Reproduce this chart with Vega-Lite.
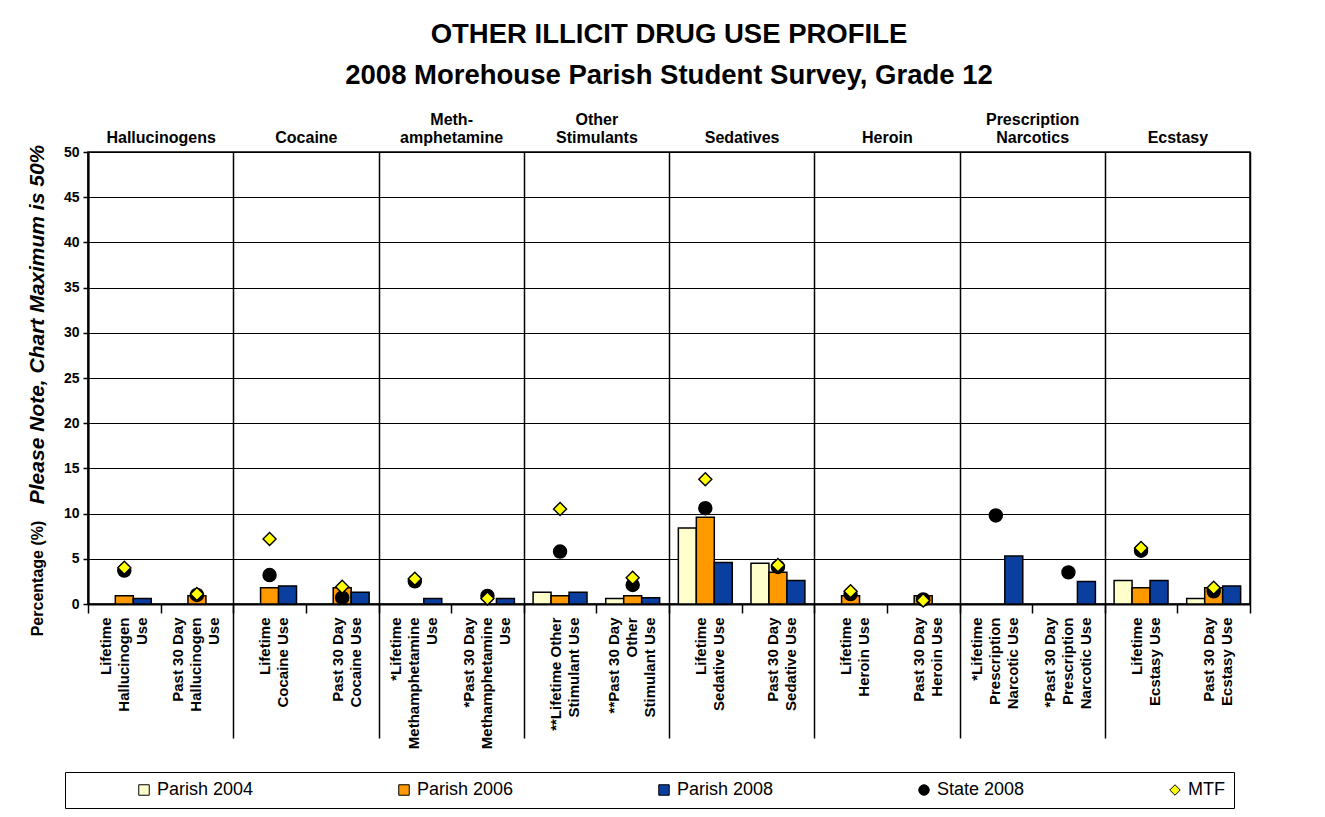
{
  "$schema": "https://vega.github.io/schema/vega-lite/v6.json",
  "width": 1162,
  "height": 452,
  "autosize": {"type": "none"},
  "padding": {"left": 88, "top": 152, "right": 75, "bottom": 213},
  "background": "white",
  "title": {
    "text": "OTHER ILLICIT DRUG USE PROFILE",
    "subtitle": "2008 Morehouse Parish Student Survey, Grade 12",
    "font": "Liberation Sans",
    "subtitleFont": "Liberation Sans",
    "fontSize": 27.5,
    "subtitleFontSize": 27.5,
    "fontWeight": "bold",
    "subtitleFontWeight": "bold",
    "color": "black",
    "subtitleColor": "black",
    "anchor": "middle",
    "offset": 22,
    "subtitlePadding": 13
  },
  "config": {
    "view": {"stroke": "black", "strokeWidth": 1.5},
    "legend": {
      "labelFont": "Liberation Sans",
      "labelFontSize": 18,
      "labelColor": "black",
      "symbolStrokeColor": "black",
      "symbolStrokeWidth": 1,
      "symbolSize": 110
    }
  },
  "datasets": {
    "rates": [
      {"cat": "Lifetime|Hallucinogen|Use", "series": "Parish 2006", "value": 0.9},
      {"cat": "Lifetime|Hallucinogen|Use", "series": "Parish 2008", "value": 0.6},
      {"cat": "Lifetime|Hallucinogen|Use", "series": "State 2008", "value": 3.7},
      {"cat": "Lifetime|Hallucinogen|Use", "series": "MTF", "value": 4.0},
      {"cat": "Past 30 Day|Hallucinogen|Use", "series": "Parish 2006", "value": 0.9},
      {"cat": "Past 30 Day|Hallucinogen|Use", "series": "State 2008", "value": 1.0},
      {"cat": "Past 30 Day|Hallucinogen|Use", "series": "MTF", "value": 1.1},
      {"cat": "Lifetime|Cocaine Use", "series": "Parish 2006", "value": 1.8},
      {"cat": "Lifetime|Cocaine Use", "series": "Parish 2008", "value": 2.0},
      {"cat": "Lifetime|Cocaine Use", "series": "State 2008", "value": 3.2},
      {"cat": "Lifetime|Cocaine Use", "series": "MTF", "value": 7.2},
      {"cat": "Past 30 Day|Cocaine Use", "series": "Parish 2006", "value": 1.8},
      {"cat": "Past 30 Day|Cocaine Use", "series": "Parish 2008", "value": 1.3},
      {"cat": "Past 30 Day|Cocaine Use", "series": "State 2008", "value": 0.7},
      {"cat": "Past 30 Day|Cocaine Use", "series": "MTF", "value": 1.9},
      {"cat": "*Lifetime|Methamphetamine|Use", "series": "Parish 2008", "value": 0.6},
      {"cat": "*Lifetime|Methamphetamine|Use", "series": "State 2008", "value": 2.5},
      {"cat": "*Lifetime|Methamphetamine|Use", "series": "MTF", "value": 2.8},
      {"cat": "*Past 30 Day|Methamphetamine|Use", "series": "Parish 2008", "value": 0.6},
      {"cat": "*Past 30 Day|Methamphetamine|Use", "series": "State 2008", "value": 0.9},
      {"cat": "*Past 30 Day|Methamphetamine|Use", "series": "MTF", "value": 0.6},
      {"cat": "**Lifetime Other|Stimulant Use", "series": "Parish 2004", "value": 1.3},
      {"cat": "**Lifetime Other|Stimulant Use", "series": "Parish 2006", "value": 0.9},
      {"cat": "**Lifetime Other|Stimulant Use", "series": "Parish 2008", "value": 1.3},
      {"cat": "**Lifetime Other|Stimulant Use", "series": "State 2008", "value": 5.8},
      {"cat": "**Lifetime Other|Stimulant Use", "series": "MTF", "value": 10.5},
      {"cat": "**Past 30 Day|Other|Stimulant Use", "series": "Parish 2004", "value": 0.6},
      {"cat": "**Past 30 Day|Other|Stimulant Use", "series": "Parish 2006", "value": 0.9},
      {"cat": "**Past 30 Day|Other|Stimulant Use", "series": "Parish 2008", "value": 0.7},
      {"cat": "**Past 30 Day|Other|Stimulant Use", "series": "State 2008", "value": 2.1},
      {"cat": "**Past 30 Day|Other|Stimulant Use", "series": "MTF", "value": 2.9},
      {"cat": "Lifetime|Sedative Use", "series": "Parish 2004", "value": 8.4},
      {"cat": "Lifetime|Sedative Use", "series": "Parish 2006", "value": 9.6},
      {"cat": "Lifetime|Sedative Use", "series": "Parish 2008", "value": 4.6},
      {"cat": "Lifetime|Sedative Use", "series": "State 2008", "value": 10.6},
      {"cat": "Lifetime|Sedative Use", "series": "MTF", "value": 13.8},
      {"cat": "Past 30 Day|Sedative Use", "series": "Parish 2004", "value": 4.5},
      {"cat": "Past 30 Day|Sedative Use", "series": "Parish 2006", "value": 3.5},
      {"cat": "Past 30 Day|Sedative Use", "series": "Parish 2008", "value": 2.6},
      {"cat": "Past 30 Day|Sedative Use", "series": "State 2008", "value": 4.1},
      {"cat": "Past 30 Day|Sedative Use", "series": "MTF", "value": 4.3},
      {"cat": "Lifetime|Heroin Use", "series": "Parish 2006", "value": 0.9},
      {"cat": "Lifetime|Heroin Use", "series": "State 2008", "value": 1.1},
      {"cat": "Lifetime|Heroin Use", "series": "MTF", "value": 1.4},
      {"cat": "Past 30 Day|Heroin Use", "series": "Parish 2006", "value": 0.9},
      {"cat": "Past 30 Day|Heroin Use", "series": "State 2008", "value": 0.5},
      {"cat": "Past 30 Day|Heroin Use", "series": "MTF", "value": 0.4},
      {"cat": "*Lifetime|Prescription|Narcotic Use", "series": "Parish 2008", "value": 5.3},
      {"cat": "*Lifetime|Prescription|Narcotic Use", "series": "State 2008", "value": 9.8},
      {"cat": "*Past 30 Day|Prescription|Narcotic Use", "series": "Parish 2008", "value": 2.5},
      {"cat": "*Past 30 Day|Prescription|Narcotic Use", "series": "State 2008", "value": 3.5},
      {"cat": "Lifetime|Ecstasy Use", "series": "Parish 2004", "value": 2.6},
      {"cat": "Lifetime|Ecstasy Use", "series": "Parish 2006", "value": 1.8},
      {"cat": "Lifetime|Ecstasy Use", "series": "Parish 2008", "value": 2.6},
      {"cat": "Lifetime|Ecstasy Use", "series": "State 2008", "value": 5.9},
      {"cat": "Lifetime|Ecstasy Use", "series": "MTF", "value": 6.2},
      {"cat": "Past 30 Day|Ecstasy Use", "series": "Parish 2004", "value": 0.6},
      {"cat": "Past 30 Day|Ecstasy Use", "series": "Parish 2006", "value": 1.8},
      {"cat": "Past 30 Day|Ecstasy Use", "series": "Parish 2008", "value": 2.0},
      {"cat": "Past 30 Day|Ecstasy Use", "series": "State 2008", "value": 1.4},
      {"cat": "Past 30 Day|Ecstasy Use", "series": "MTF", "value": 1.8}
    ],
    "groups": [
      {"grp": "|Hallucinogens"},
      {"grp": "|Cocaine"},
      {"grp": "Meth-|amphetamine"},
      {"grp": "Other|Stimulants"},
      {"grp": "|Sedatives"},
      {"grp": "|Heroin"},
      {"grp": "Prescription|Narcotics"},
      {"grp": "|Ecstasy"}
    ]
  },
  "resolve": {
    "scale": {"x": "independent"},
    "axis": {"x": "independent", "y": "independent"}
  },
  "layer": [
    {
      "data": {"name": "rates"},
      "transform": [{"filter": "indexof(['Parish 2004','Parish 2006','Parish 2008'], datum.series) >= 0"}],
      "mark": {"type": "bar", "stroke": "black", "strokeWidth": 1.5},
      "encoding": {
        "x": {
          "field": "cat", "type": "nominal",
          "scale": {
            "domain": ["Lifetime|Hallucinogen|Use", "Past 30 Day|Hallucinogen|Use", "Lifetime|Cocaine Use", "Past 30 Day|Cocaine Use", "*Lifetime|Methamphetamine|Use", "*Past 30 Day|Methamphetamine|Use", "**Lifetime Other|Stimulant Use", "**Past 30 Day|Other|Stimulant Use", "Lifetime|Sedative Use", "Past 30 Day|Sedative Use", "Lifetime|Heroin Use", "Past 30 Day|Heroin Use", "*Lifetime|Prescription|Narcotic Use", "*Past 30 Day|Prescription|Narcotic Use", "Lifetime|Ecstasy Use", "Past 30 Day|Ecstasy Use"],
            "paddingInner": 0, "paddingOuter": 0
          },
          "axis": {
            "title": null, "orient": "bottom", "tickBand": "extent", "tickSize": 9,
            "tickColor": "black", "tickWidth": 1.5, "domainColor": "black", "domainWidth": 2,
            "grid": false, "labelAngle": 270, "labelAlign": "right", "labelBaseline": "middle",
            "labelFont": "Liberation Sans", "labelFontWeight": "bold", "labelFontSize": 15,
            "labelLineHeight": 18, "labelPadding": 4, "labelColor": "black",
            "labelOffset": {"condition": {"test": "isValid(datum.value) && length(split(datum.value, '|')) == 3", "value": -19}, "value": -5},
            "labelExpr": "isValid(datum.value) ? split(datum.value, '|') : ''"
          }
        },
        "xOffset": {
          "field": "series", "type": "nominal",
          "scale": {"domain": ["Parish 2004", "Parish 2006", "Parish 2008"], "paddingInner": 0, "paddingOuter": 0.52}
        },
        "y": {
          "field": "value", "type": "quantitative",
          "scale": {"domain": [0, 50], "nice": false},
          "axis": {
            "values": [0, 5, 10, 15, 20, 25, 30, 35, 40, 45, 50],
            "grid": true, "gridColor": "black", "gridWidth": 1,
            "domainColor": "black", "domainWidth": 2, "tickColor": "black", "tickSize": 5, "tickWidth": 1.5,
            "labelFont": "Liberation Sans", "labelFontWeight": "bold", "labelFontSize": 14, "labelColor": "black", "labelPadding": 4,
            "title": "Percentage (%)", "titleFont": "Liberation Sans", "titleFontSize": 16, "titleFontWeight": "bold", "titleColor": "black",
            "titleAngle": 270, "titleAlign": "center", "titleBaseline": "middle", "titleX": -51, "titleY": 426
          }
        },
        "color": {
          "field": "series", "type": "nominal",
          "scale": {"domain": ["Parish 2004", "Parish 2006", "Parish 2008", "State 2008", "MTF"], "range": ["#FFFFCC", "#FF9900", "#0A3FA0", "#000000", "#FFFF00"]},
          "legend": {
            "title": " ", "titleOrient": "left", "titlePadding": 61, "titleFontSize": 4,
            "orient": "none", "legendX": -23, "legendY": 620, "direction": "horizontal", "columns": 5,
            "gridAlign": "each", "columnPadding": 141, "padding": 9, "strokeColor": "black", "fillColor": "white",
            "labelExpr": "datum.label == 'MTF' ? 'MTF\u00a0\u00a0\u00a0\u00a0\u00a0\u00a0\u00a0\u00a0\u00a0\u00a0\u00a0\u00a0\u00a0\u00a0' : datum.label"
          }
        }
      }
    },
    {
      "data": {"name": "rates"},
      "transform": [{"filter": "indexof(['State 2008','MTF'], datum.series) >= 0"}],
      "mark": {"type": "point", "filled": true, "stroke": "black", "strokeWidth": 1.4, "opacity": 1, "size": 170},
      "encoding": {
        "x": {
          "field": "cat", "type": "nominal",
          "scale": {
            "domain": ["Lifetime|Hallucinogen|Use", "Past 30 Day|Hallucinogen|Use", "Lifetime|Cocaine Use", "Past 30 Day|Cocaine Use", "*Lifetime|Methamphetamine|Use", "*Past 30 Day|Methamphetamine|Use", "**Lifetime Other|Stimulant Use", "**Past 30 Day|Other|Stimulant Use", "Lifetime|Sedative Use", "Past 30 Day|Sedative Use", "Lifetime|Heroin Use", "Past 30 Day|Heroin Use", "*Lifetime|Prescription|Narcotic Use", "*Past 30 Day|Prescription|Narcotic Use", "Lifetime|Ecstasy Use", "Past 30 Day|Ecstasy Use"],
            "paddingInner": 0, "paddingOuter": 0
          },
          "axis": null
        },
        "y": {"field": "value", "type": "quantitative", "scale": {"domain": [0, 50], "nice": false}, "axis": null},
        "color": {
          "field": "series", "type": "nominal",
          "scale": {"domain": ["Parish 2004", "Parish 2006", "Parish 2008", "State 2008", "MTF"], "range": ["#FFFFCC", "#FF9900", "#0A3FA0", "#000000", "#FFFF00"]}
        },
        "shape": {
          "field": "series", "type": "nominal",
          "scale": {"domain": ["Parish 2004", "Parish 2006", "Parish 2008", "State 2008", "MTF"], "range": ["square", "square", "square", "circle", "diamond"]},
          "legend": {
            "title": " ", "titleOrient": "left", "titlePadding": 61, "titleFontSize": 4,
            "orient": "none", "legendX": -23, "legendY": 620, "direction": "horizontal", "columns": 5,
            "gridAlign": "each", "columnPadding": 141, "padding": 9, "strokeColor": "black", "fillColor": "white",
            "labelExpr": "datum.label == 'MTF' ? 'MTF\u00a0\u00a0\u00a0\u00a0\u00a0\u00a0\u00a0\u00a0\u00a0\u00a0\u00a0\u00a0\u00a0\u00a0' : datum.label"
          }
        },
        "order": {"field": "series", "sort": "descending"}
      }
    },
    {
      "data": {"name": "groups"},
      "mark": {"type": "point", "opacity": 0},
      "encoding": {
        "x": {
          "field": "grp", "type": "nominal",
          "scale": {"domain": ["|Hallucinogens", "|Cocaine", "Meth-|amphetamine", "Other|Stimulants", "|Sedatives", "|Heroin", "Prescription|Narcotics", "|Ecstasy"], "paddingInner": 0, "paddingOuter": 0},
          "axis": {
            "title": null, "orient": "bottom", "tickBand": "extent", "labels": false, "domain": false,
            "ticks": true, "tickSize": 134, "tickColor": "black", "tickWidth": 1.5,
            "tickOpacity": {"condition": {"test": "!isValid(datum.value) || datum.value === '|Ecstasy'", "value": 0}, "value": 1},
            "grid": true, "gridColor": "black", "gridWidth": 1.5
          }
        },
        "y": {
          "datum": 0, "type": "quantitative", "scale": {"domain": [0, 50], "nice": false},
          "axis": {
            "orient": "left", "labels": false, "ticks": false, "domain": false, "grid": false,
            "title": "Please Note, Chart Maximum is 50%", "titleFont": "Liberation Sans", "titleFontSize": 21,
            "titleFontWeight": "bold", "titleFontStyle": "italic", "titleColor": "black",
            "titleAngle": 270, "titleAlign": "center", "titleBaseline": "middle", "titleX": -51, "titleY": 172
          }
        }
      }
    },
    {
      "data": {"name": "groups"},
      "mark": {"type": "point", "opacity": 0},
      "encoding": {
        "x": {
          "field": "grp", "type": "nominal",
          "scale": {"domain": ["|Hallucinogens", "|Cocaine", "Meth-|amphetamine", "Other|Stimulants", "|Sedatives", "|Heroin", "Prescription|Narcotics", "|Ecstasy"], "paddingInner": 0, "paddingOuter": 0},
          "axis": {
            "title": null, "orient": "top", "ticks": false, "domain": false, "grid": false,
            "labelAngle": 0, "labelFont": "Liberation Sans", "labelFontWeight": "bold", "labelFontSize": 16,
            "labelLineHeight": 18, "labelPadding": 25, "labelColor": "black",
            "labelExpr": "split(datum.value, '|')"
          }
        }
      }
    }
  ]
}
